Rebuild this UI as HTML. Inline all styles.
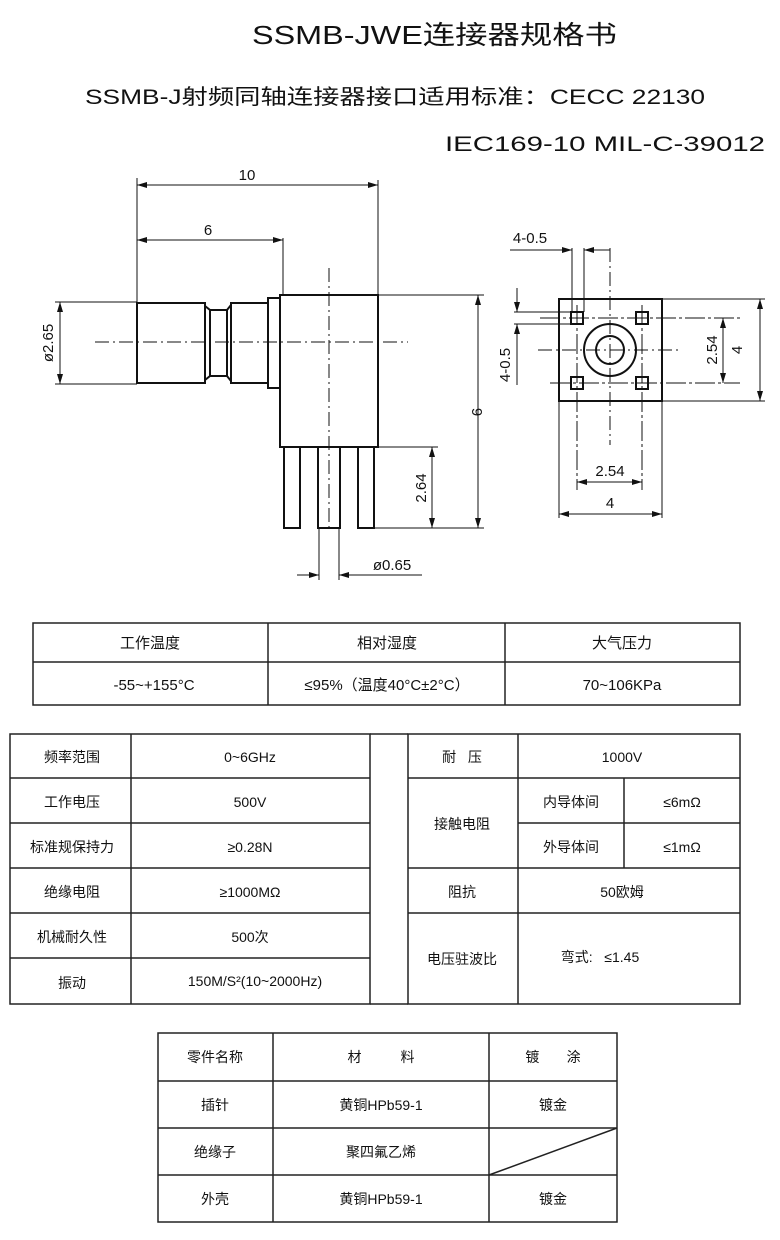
<!DOCTYPE html>
<html><head><meta charset="utf-8"><style>
html,body{margin:0;padding:0;background:#fff;}
svg{display:block;}
text{font-family:"Liberation Sans","Noto Sans CJK SC",sans-serif;fill:#111;white-space:pre;}
</style></head><body>
<svg width="780" height="1240" viewBox="0 0 780 1240" xmlns="http://www.w3.org/2000/svg">
<defs>
<marker id="a" viewBox="0 0 10 6" refX="10" refY="3" markerWidth="10" markerHeight="6" orient="auto-start-reverse" markerUnits="userSpaceOnUse"><path d="M0,0 L10,3 L0,6 z" fill="#111"/></marker>
</defs>
<text x="252" y="44" font-size="26" textLength="365" lengthAdjust="spacingAndGlyphs">SSMB-JWE连接器规格书</text>
<text x="85" y="104" font-size="21" textLength="620" lengthAdjust="spacingAndGlyphs">SSMB-J射频同轴连接器接口适用标准：CECC 22130</text>
<text x="445" y="151" font-size="21" textLength="320" lengthAdjust="spacingAndGlyphs">IEC169-10 MIL-C-39012</text>

<g stroke="#111" fill="none">
<g stroke-width="2">
<rect x="280" y="295" width="98" height="152"/>
<rect x="137" y="303" width="68" height="80"/>
<path d="M205,306 L210,310 L210,376 L205,380"/>
<rect x="210" y="310" width="17" height="66"/>
<path d="M227,310 L231,305 L231,381 L227,376"/>
<rect x="231" y="303" width="37" height="80"/>
<rect x="268" y="298" width="12" height="90"/>
<rect x="284" y="447" width="16" height="81"/>
<rect x="318" y="447" width="22" height="81"/>
<rect x="358" y="447" width="16" height="81"/>
</g>
<g stroke-width="1">
<line x1="95" y1="342" x2="408" y2="342" stroke-dasharray="14,4,2,4"/>
<line x1="329" y1="268" x2="329" y2="532" stroke-dasharray="14,4,2,4"/>
<line x1="137" y1="178" x2="137" y2="303"/>
<line x1="378" y1="180" x2="378" y2="295"/>
<line x1="137" y1="185" x2="378" y2="185" marker-start="url(#a)" marker-end="url(#a)"/>
<line x1="283" y1="238" x2="283" y2="295"/>
<line x1="137" y1="240" x2="283" y2="240" marker-start="url(#a)" marker-end="url(#a)"/>
<line x1="55" y1="302" x2="137" y2="302"/>
<line x1="55" y1="384" x2="137" y2="384"/>
<line x1="60" y1="302" x2="60" y2="384" marker-start="url(#a)" marker-end="url(#a)"/>
<line x1="378" y1="295" x2="484" y2="295"/>
<line x1="374" y1="528" x2="484" y2="528"/>
<line x1="478" y1="295" x2="478" y2="528" marker-start="url(#a)" marker-end="url(#a)"/>
<line x1="378" y1="447" x2="438" y2="447"/>
<line x1="432" y1="447" x2="432" y2="528" marker-start="url(#a)" marker-end="url(#a)"/>
<line x1="319" y1="528" x2="319" y2="580"/>
<line x1="339" y1="528" x2="339" y2="580"/>
<line x1="297" y1="575" x2="319" y2="575" marker-end="url(#a)"/>
<line x1="362" y1="575" x2="339" y2="575" marker-end="url(#a)"/>
<line x1="339" y1="575" x2="422" y2="575"/>
</g>
<g stroke-width="2">
<rect x="559" y="299" width="103" height="102"/>
<rect x="571" y="312" width="12" height="12"/>
<rect x="636" y="312" width="12" height="12"/>
<rect x="571" y="377" width="12" height="12"/>
<rect x="636" y="377" width="12" height="12"/>
<circle cx="610" cy="350" r="26"/>
<circle cx="610" cy="350" r="14"/>
</g>
<g stroke-width="1">
<line x1="538" y1="350" x2="682" y2="350" stroke-dasharray="14,4,2,4"/>
<line x1="610" y1="248" x2="610" y2="445" stroke-dasharray="14,4,2,4"/>
<line x1="540" y1="318" x2="740" y2="318" stroke-dasharray="20,3,3,3"/>
<line x1="550" y1="383" x2="740" y2="383" stroke-dasharray="20,3,3,3"/>
<line x1="577" y1="305" x2="577" y2="490" stroke-dasharray="20,3,3,3"/>
<line x1="642" y1="305" x2="642" y2="490" stroke-dasharray="20,3,3,3"/>
<line x1="572" y1="248" x2="572" y2="312"/>
<line x1="584" y1="248" x2="584" y2="312"/>
<line x1="510" y1="250" x2="572" y2="250"/>
<line x1="558" y1="250" x2="572" y2="250" marker-end="url(#a)"/>
<line x1="598" y1="250" x2="584" y2="250" marker-end="url(#a)"/>
<line x1="584" y1="250" x2="610" y2="250"/>
<line x1="514" y1="312" x2="571" y2="312"/>
<line x1="514" y1="324" x2="571" y2="324"/>
<line x1="517" y1="288" x2="517" y2="312" marker-end="url(#a)"/>
<line x1="517" y1="348" x2="517" y2="324" marker-end="url(#a)"/>
<line x1="517" y1="324" x2="517" y2="385"/>
<line x1="662" y1="299" x2="765" y2="299"/>
<line x1="662" y1="401" x2="765" y2="401"/>
<line x1="760" y1="299" x2="760" y2="401" marker-start="url(#a)" marker-end="url(#a)"/>
<line x1="723" y1="318" x2="723" y2="383" marker-start="url(#a)" marker-end="url(#a)"/>
<line x1="559" y1="401" x2="559" y2="518"/>
<line x1="662" y1="401" x2="662" y2="518"/>
<line x1="577" y1="482" x2="642" y2="482" marker-start="url(#a)" marker-end="url(#a)"/>
<line x1="559" y1="514" x2="662" y2="514" marker-start="url(#a)" marker-end="url(#a)"/>
</g>
</g>
<g font-size="15">
<text x="247" y="180" text-anchor="middle">10</text>
<text x="208" y="235" text-anchor="middle">6</text>
<text transform="translate(53,343) rotate(-90)" text-anchor="middle">ø2.65</text>
<text transform="translate(472,412) rotate(90)" text-anchor="middle">9</text>
<text transform="translate(426,488) rotate(-90)" text-anchor="middle">2.64</text>
<text x="392" y="570" text-anchor="middle">ø0.65</text>
<text x="530" y="243" text-anchor="middle">4-0.5</text>
<text transform="translate(510,365) rotate(-90)" text-anchor="middle">4-0.5</text>
<text transform="translate(717,350) rotate(-90)" text-anchor="middle">2.54</text>
<text transform="translate(742,350) rotate(-90)" text-anchor="middle">4</text>
<text x="610" y="476" text-anchor="middle">2.54</text>
<text x="610" y="508" text-anchor="middle">4</text>
</g>

<g stroke="#222" stroke-width="1.5" fill="none">
<rect x="33" y="623" width="707" height="82"/>
<line x1="33" y1="662" x2="740" y2="662"/>
<line x1="268" y1="623" x2="268" y2="705"/>
<line x1="505" y1="623" x2="505" y2="705"/>
</g>
<g font-size="15" text-anchor="middle">
<text x="150" y="648">工作温度</text>
<text x="387" y="648">相对湿度</text>
<text x="622" y="648">大气压力</text>
<text x="154" y="690">-55~+155°C</text>
<text x="387" y="690">≤95%（温度40°C±2°C）</text>
<text x="622" y="690">70~106KPa</text>
</g>

<g stroke="#222" stroke-width="1.5" fill="none">
<rect x="10" y="734" width="360" height="270"/>
<rect x="408" y="734" width="332" height="270"/>
<line x1="370" y1="734" x2="408" y2="734"/>
<line x1="370" y1="1004" x2="408" y2="1004"/>
<line x1="131" y1="734" x2="131" y2="1004"/>
<line x1="10" y1="778" x2="370" y2="778"/>
<line x1="10" y1="823" x2="370" y2="823"/>
<line x1="10" y1="868" x2="370" y2="868"/>
<line x1="10" y1="913" x2="370" y2="913"/>
<line x1="10" y1="958" x2="370" y2="958"/>
<line x1="518" y1="734" x2="518" y2="1004"/>
<line x1="624" y1="778" x2="624" y2="868"/>
<line x1="408" y1="778" x2="740" y2="778"/>
<line x1="518" y1="823" x2="740" y2="823"/>
<line x1="408" y1="868" x2="740" y2="868"/>
<line x1="408" y1="913" x2="740" y2="913"/>
</g>
<g font-size="14" text-anchor="middle">
<text x="72" y="762">频率范围</text><text x="250" y="762">0~6GHz</text>
<text x="72" y="807">工作电压</text><text x="250" y="807">500V</text>
<text x="72" y="852">标准规保持力</text><text x="250" y="852">≥0.28N</text>
<text x="72" y="897">绝缘电阻</text><text x="250" y="897">≥1000MΩ</text>
<text x="72" y="942">机械耐久性</text><text x="250" y="942">500次</text>
<text x="72" y="988">振动</text><text x="255" y="986">150M/S²(10~2000Hz)</text>
<text x="462" y="762">耐   压</text><text x="622" y="762">1000V</text>
<text x="462" y="829">接触电阻</text>
<text x="571" y="807">内导体间</text><text x="682" y="807">≤6mΩ</text>
<text x="571" y="852">外导体间</text><text x="682" y="852">≤1mΩ</text>
<text x="462" y="897">阻抗</text><text x="622" y="897">50欧姆</text>
<text x="462" y="964">电压驻波比</text><text x="600" y="962">弯式:   ≤1.45</text>
</g>

<g stroke="#222" stroke-width="1.5" fill="none">
<rect x="158" y="1033" width="459" height="189"/>
<line x1="273" y1="1033" x2="273" y2="1222"/>
<line x1="489" y1="1033" x2="489" y2="1222"/>
<line x1="158" y1="1081" x2="617" y2="1081"/>
<line x1="158" y1="1128" x2="617" y2="1128"/>
<line x1="158" y1="1175" x2="617" y2="1175"/>
<line x1="489" y1="1175" x2="617" y2="1128"/>
</g>
<g font-size="14" text-anchor="middle">
<text x="215" y="1062">零件名称</text><text x="381" y="1062">材          料</text><text x="553" y="1062">镀       涂</text>
<text x="215" y="1110">插针</text><text x="381" y="1110">黄铜HPb59-1</text><text x="553" y="1110">镀金</text>
<text x="215" y="1157">绝缘子</text><text x="381" y="1157">聚四氟乙烯</text>
<text x="215" y="1204">外壳</text><text x="381" y="1204">黄铜HPb59-1</text><text x="553" y="1204">镀金</text>
</g>
</svg>
</body></html>
